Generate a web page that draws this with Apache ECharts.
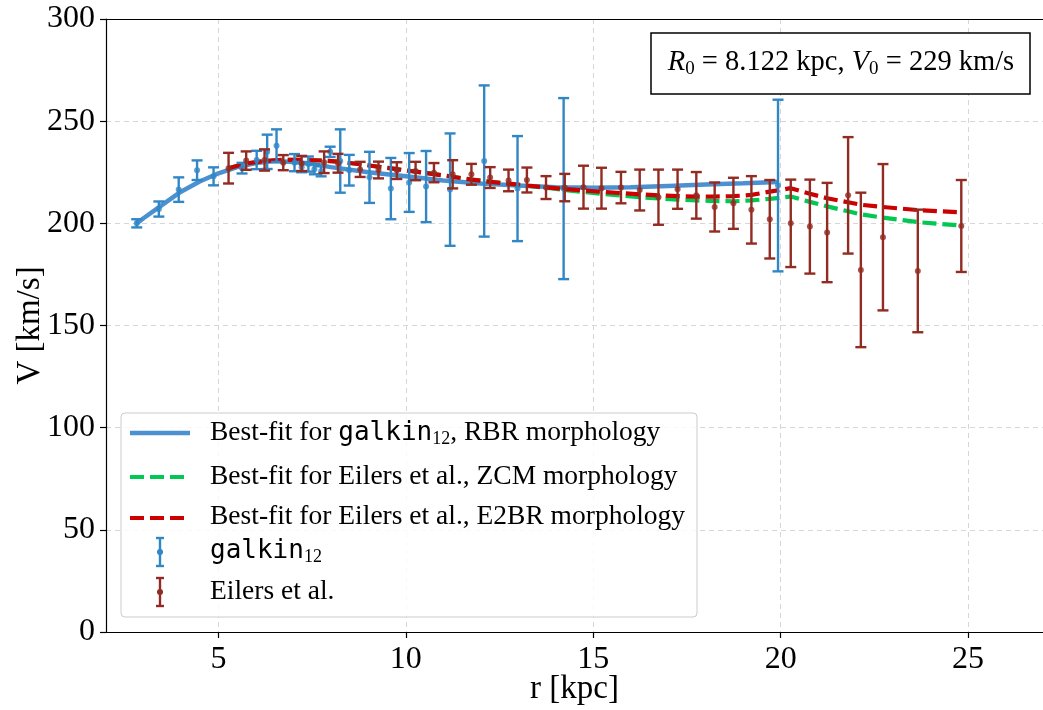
<!DOCTYPE html>
<html><head><meta charset="utf-8">
<script src="https://cdn.jsdelivr.net/npm/echarts@6/dist/echarts.min.js"></script>
<style>html,body{margin:0;padding:0;background:#fff}#c{width:1043px;height:710px}</style>
</head><body><div id="c"></div>
<script>
// ---- data ----
const galkinR = [2.82, 3.41, 3.94, 4.43, 4.87, 5.63, 6.02, 6.30, 6.55, 7.03, 7.22, 7.40, 7.56, 7.74, 7.98, 8.25, 8.49, 9.03, 9.60, 10.09, 10.54, 11.18, 12.09, 12.98, 14.21, 19.93];
const galkinV = [200.0, 207.0, 216.5, 226.0, 223.0, 227.0, 231.0, 235.0, 238.0, 229.7, 227.5, 229.0, 226.5, 225.5, 235.0, 230.5, 226.0, 222.5, 217.0, 220.0, 218.0, 216.5, 230.5, 217.0, 217.0, 218.5];
const galkinErr = [2.0, 3.7, 6.0, 4.8, 4.4, 2.6, 4.5, 8.4, 8.0, 4.2, 2.5, 3.7, 2.5, 2.5, 2.5, 15.5, 7.5, 12.5, 15.0, 14.4, 17.4, 27.5, 37.0, 25.7, 44.3, 42.0];

const eilersR = [5.27, 5.74, 6.23, 6.73, 7.22, 7.82, 8.19, 8.78, 9.27, 9.76, 10.26, 10.75, 11.25, 11.75, 12.25, 12.74, 13.23, 13.74, 14.24, 14.74, 15.22, 15.74, 16.24, 16.74, 17.25, 17.75, 18.24, 18.74, 19.22, 19.71, 20.27, 20.78, 21.24, 21.80, 22.14, 22.73, 23.66, 24.82];
const eilersV = [227.0, 230.7, 231.0, 229.7, 229.3, 229.9, 229.4, 226.4, 226.1, 225.8, 225.6, 224.8, 224.0, 224.0, 222.4, 221.0, 221.2, 217.5, 217.5, 217.7, 217.2, 217.5, 216.3, 212.8, 216.7, 213.7, 208.0, 209.8, 206.6, 202.0, 200.0, 198.4, 195.5, 213.7, 177.2, 193.2, 176.7, 198.7];
const eilersErr = [7.5, 4.5, 5.2, 3.7, 3.7, 5.3, 4.6, 3.7, 4.1, 4.1, 4.5, 4.7, 6.9, 5.1, 5.1, 5.3, 6.1, 5.6, 6.7, 10.5, 10.0, 7.7, 10.0, 13.5, 9.6, 11.4, 12.0, 12.5, 16.5, 19.2, 21.4, 23.0, 24.3, 28.5, 37.8, 35.8, 30.0, 22.5];

const fitGalkinR = [2.82, 3.0, 3.5, 4.0, 4.5, 5.0, 5.5, 6.0, 6.5, 7.0, 7.5, 8.0, 9.0, 10.0, 11.0, 12.0, 13.0, 14.0, 15.0, 16.0, 17.0, 18.0, 19.0, 19.93];
const fitGalkinV = [200.0, 202.5, 209.0, 215.5, 220.5, 224.5, 227.5, 229.5, 230.5, 230.0, 229.0, 227.5, 225.0, 223.0, 221.0, 219.5, 218.5, 217.7, 217.4, 217.6, 218.3, 219.0, 219.6, 220.2];

const fitZCMV = [227.0, 229.3, 230.5, 231.1, 231.1, 230.7, 230.2, 228.9, 227.7, 226.5, 225.3, 224.1, 222.8, 221.4, 220.3, 219.4, 218.4, 217.4, 216.3, 215.3, 214.5, 213.6, 212.8, 212.2, 211.6, 211.2, 210.9, 210.8, 211.2, 212.0, 213.1, 210.5, 208.3, 205.9, 204.4, 202.8, 200.6, 198.9];
const fitE2BRV = [227.0, 229.3, 230.5, 231.1, 231.1, 230.7, 230.2, 228.9, 227.7, 226.5, 225.3, 224.1, 222.8, 221.4, 220.3, 219.4, 218.5, 217.6, 216.8, 216.1, 215.4, 214.8, 214.2, 213.7, 213.3, 213.1, 213.1, 213.3, 213.9, 215.5, 217.2, 214.5, 212.3, 210.3, 209.1, 208.0, 206.5, 205.4];

// ---- styling ----
const SERIF = "'Liberation Serif', 'DejaVu Serif', serif";
const MONO = "'DejaVu Sans Mono', 'Liberation Mono', monospace";
const C_BLUE_LINE = '#4b90d0';
const C_BLUE = '#3187c6';
const C_GREEN = '#00c853';
const C_RED = '#cc0000';
const C_BROWN = '#922b21';

const zip = (a, b) => a.map((v, i) => [v, b[i]]);

function errSeries(xs, ys, es, color, z) {
  return {
    type: 'custom', z: z, silent: true,
    data: xs.map((x, i) => [x, ys[i] - es[i], ys[i] + es[i]]),
    encode: { x: 0, y: [1, 2] },
    renderItem: function (params, api) {
      const x = api.value(0);
      const lo = api.coord([x, api.value(1)]);
      const hi = api.coord([x, api.value(2)]);
      const cw = 5.5;
      const st = { stroke: color, lineWidth: 2.4 };
      return {
        type: 'group', children: [
          { type: 'line', shape: { x1: lo[0], y1: lo[1], x2: hi[0], y2: hi[1] }, style: st },
          { type: 'line', shape: { x1: lo[0] - cw, y1: lo[1], x2: lo[0] + cw, y2: lo[1] }, style: st },
          { type: 'line', shape: { x1: hi[0] - cw, y1: hi[1], x2: hi[0] + cw, y2: hi[1] }, style: st }
        ]
      };
    }
  };
}

const chart = echarts.init(document.getElementById('c'), null, { renderer: 'canvas' });

const legendText = { fontFamily: SERIF, fontSize: 27.5, fill: '#000' };
const richLegend = {
  m: { fontFamily: MONO, fontSize: 26, fill: '#000' },
  s: { fontFamily: SERIF, fontSize: 18, fill: '#000', padding: [12, 0, 0, 0] }
};

function legendErrIcon(cx, cy, color) {
  const st = { stroke: color, lineWidth: 2.4 };
  return [
    { type: 'line', z: 101, shape: { x1: cx, y1: cy - 14, x2: cx, y2: cy + 14 }, style: st },
    { type: 'line', z: 101, shape: { x1: cx - 4, y1: cy - 14, x2: cx + 4, y2: cy - 14 }, style: st },
    { type: 'line', z: 101, shape: { x1: cx - 4, y1: cy + 14, x2: cx + 4, y2: cy + 14 }, style: st },
    { type: 'circle', z: 101, shape: { cx: cx, cy: cy, r: 3 }, style: { fill: color } }
  ];
}

const option = {
  animation: false,
  backgroundColor: '#fff',
  grid: { left: 106, top: 19, right: 0, bottom: 78, containLabel: false, outerBoundsMode: 'none' },
  xAxis: [{
    type: 'value', min: 2, max: 27, splitNumber: 5,
    name: 'r [kpc]', nameLocation: 'middle', nameGap: 41, nameMoveOverlap: false,
    nameTextStyle: { fontFamily: SERIF, fontSize: 33, color: '#000' },
    axisLine: { show: true, lineStyle: { color: '#000', width: 1.2 } },
    axisTick: { show: true, length: 6, lineStyle: { color: '#000', width: 1.2 } },
    axisLabel: { showMinLabel: false, showMaxLabel: false, fontFamily: SERIF, fontSize: 32, color: '#000', margin: 12 },
    splitLine: { show: true, lineStyle: { color: '#d6d6d6', width: 1, type: [5, 4] } }
  }, {
    type: 'value', min: 2, max: 27, position: 'top',
    axisLine: { show: true, onZero: false, lineStyle: { color: '#000', width: 1.2 } },
    axisTick: { show: false }, axisLabel: { show: false }, splitLine: { show: false }
  }],
  yAxis: {
    type: 'value', min: 0, max: 300, interval: 50,
    name: 'V [km/s]', nameLocation: 'middle', nameGap: 59, nameMoveOverlap: false,
    nameTextStyle: { fontFamily: SERIF, fontSize: 33, color: '#000' },
    axisLine: { show: true, lineStyle: { color: '#000', width: 1.2 } },
    axisTick: { show: true, length: 6, lineStyle: { color: '#000', width: 1.2 } },
    axisLabel: { fontFamily: SERIF, fontSize: 32, color: '#000', margin: 11 },
    splitLine: { show: true, lineStyle: { color: '#d6d6d6', width: 1, type: [5, 4] } }
  },
  series: [
    { type: 'line', data: zip(fitGalkinR, fitGalkinV), showSymbol: false, symbol: 'none', z: 2,
      lineStyle: { color: C_BLUE_LINE, width: 4.5 } },
    { type: 'line', data: zip(eilersR, fitZCMV), showSymbol: false, symbol: 'none', z: 3,
      lineStyle: { color: C_GREEN, width: 4.2, type: [14, 6] } },
    { type: 'line', data: zip(eilersR, fitE2BRV), showSymbol: false, symbol: 'none', z: 4,
      lineStyle: { color: C_RED, width: 4.2, type: [14, 6] } },
    errSeries(galkinR, galkinV, galkinErr, C_BLUE, 5),
    { type: 'scatter', data: zip(galkinR, galkinV), symbolSize: 6, z: 6, itemStyle: { color: C_BLUE } },
    errSeries(eilersR, eilersV, eilersErr, C_BROWN, 7),
    { type: 'scatter', data: zip(eilersR, eilersV), symbolSize: 6, z: 8, itemStyle: { color: C_BROWN } }
  ],
  graphic: [
    // annotation box
    { type: 'rect', z: 100, shape: { x: 651, y: 33, width: 379, height: 61 },
      style: { fill: '#fff', stroke: '#000', lineWidth: 1.5 } },
    { type: 'text', z: 101, x: 841, y: 63,
      style: { text: '{i|R}{s|0} = 8.122 kpc, {i|V}{s|0} = 229 km/s', align: 'center', verticalAlign: 'middle',
        fontFamily: SERIF, fontSize: 28.5, fill: '#000',
        rich: { i: { fontFamily: SERIF, fontStyle: 'italic', fontSize: 28.5, fill: '#000' },
                s: { fontFamily: SERIF, fontSize: 19, fill: '#000', padding: [12, 0, 0, 0] } } } },
    // legend
    { type: 'rect', z: 100, shape: { x: 121, y: 413, width: 576, height: 204, r: 4 },
      style: { fill: 'rgba(255,255,255,0.85)', stroke: '#cccccc', lineWidth: 1 } },
    { type: 'line', z: 101, shape: { x1: 130, y1: 433, x2: 190, y2: 433 }, style: { stroke: C_BLUE_LINE, lineWidth: 4.5 } },
    { type: 'line', z: 101, shape: { x1: 130, y1: 477, x2: 190, y2: 477 }, style: { stroke: C_GREEN, lineWidth: 4.2, lineDash: [14, 6] } },
    { type: 'line', z: 101, shape: { x1: 130, y1: 518, x2: 190, y2: 518 }, style: { stroke: C_RED, lineWidth: 4.2, lineDash: [14, 6] } },
    ...legendErrIcon(160, 552, C_BLUE),
    ...legendErrIcon(160, 592, C_BROWN),
    { type: 'text', z: 101, x: 210, y: 433, style: Object.assign({ text: 'Best-fit for {m|galkin}{s|12}, RBR morphology', verticalAlign: 'middle', rich: richLegend }, legendText) },
    { type: 'text', z: 101, x: 210, y: 477, style: Object.assign({ text: 'Best-fit for Eilers et al., ZCM morphology', verticalAlign: 'middle' }, legendText) },
    { type: 'text', z: 101, x: 210, y: 517, style: Object.assign({ text: 'Best-fit for Eilers et al., E2BR morphology', verticalAlign: 'middle' }, legendText) },
    { type: 'text', z: 101, x: 210, y: 551, style: Object.assign({ text: '{m|galkin}{s|12}', verticalAlign: 'middle', rich: richLegend }, legendText) },
    { type: 'text', z: 101, x: 210, y: 592, style: Object.assign({ text: 'Eilers et al.', verticalAlign: 'middle' }, legendText) }
  ]
};
chart.setOption(option);
</script>
</body></html>
